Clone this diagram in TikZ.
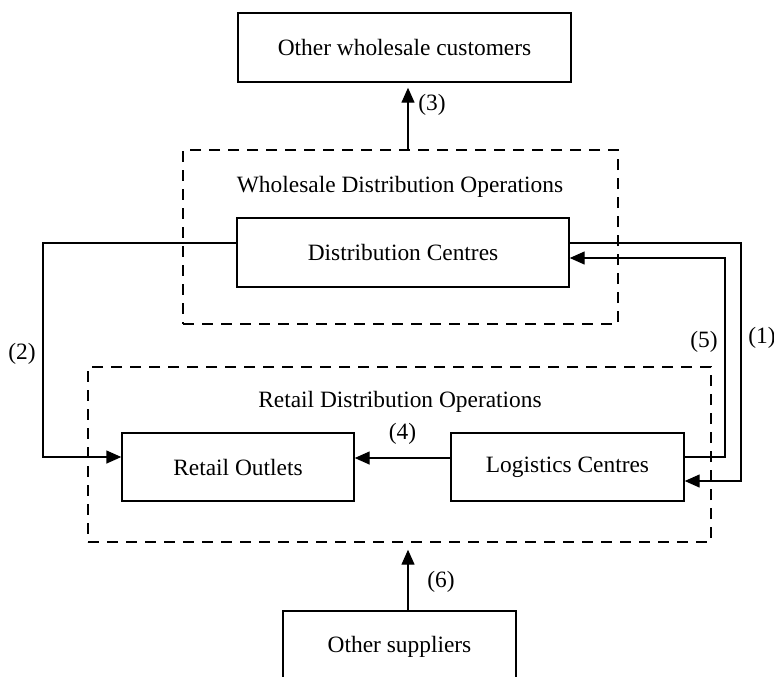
\documentclass[tikz,border=0pt]{standalone}
\usepackage{fontspec}
\setmainfont{Liberation Serif}
\usetikzlibrary{arrows.meta}
\tikzset{
  box/.style={draw,line width=0.7pt,inner sep=0pt},
  dashbox/.style={draw,line width=0.7pt,dash pattern=on 5.5pt off 4pt,inner sep=0pt},
  flow/.style={->,line width=0.7pt},
}
\begin{document}
\begin{tikzpicture}[x=0.5pt,y=-0.5pt,line join=miter,>={Triangle[length=7.5pt,width=6.5pt]},font=\fontsize{11.7}{13}\selectfont]
            \useasboundingbox (0,0) rectangle (774,676);
            % boxes
            \node[box,minimum width=166.5pt,minimum height=34.5pt] (cust) at (404.5,47.5) {Other wholesale customers};
            \node[dashbox,minimum width=217.5pt,minimum height=87pt] (wdo) at (400.5,237) {};
            \node (wlab) at (400,187) {Wholesale Distribution Operations};
            \node[box,minimum width=166pt,minimum height=34.5pt] (dc) at (403,252.5) {Distribution Centres};
            \node[dashbox,minimum width=311.5pt,minimum height=87.5pt] (rdo) at (399.5,454.5) {};
            \node (rlab) at (400,402) {Retail Distribution Operations};
            \node[box,minimum width=116pt,minimum height=34pt] (ro) at (238,467) {Retail Outlets};
            \node[box,minimum width=116.5pt,minimum height=34pt] (lc) at (567.5,467) {Logistics Centres};
            \node[box,minimum width=116.5pt,minimum height=36pt] (sup) at (399.5,647) {Other suppliers};
            \coordinate (ax) at (408,0);
            
            % flows
            \draw[flow] ([yshift=4.75pt]dc.east) -| (741,481) node[right,pos=0.70] (l1) {(1)}
            -- ([yshift=-7pt]lc.east);
            \draw[flow] ([yshift=4.75pt]dc.west) -| (43,457) node[left,pos=0.76] (l2) {(2)}
            -- ([yshift=5pt]ro.west);
            \draw[flow,shorten >=2.5pt] (wdo.north -| ax) -- (cust.south -| ax)
            node[right,pos=0.66,xshift=1.5pt] (l3) {(3)};
            \draw[flow] ([yshift=4.5pt]lc.west) -- ([yshift=4.5pt]ro.east)
            node[above,pos=0.5,yshift=3pt] (l4) {(4)};
            \draw[flow] ([yshift=5pt]lc.east) -| (725,258) node[left,pos=0.79] (l5) {(5)}
            -- ([yshift=-2.75pt]dc.east);
            \draw[flow,shorten >=3.5pt] (sup.north -| ax) -- (rdo.south -| ax)
            node[right,pos=0.42,xshift=6pt] (l6) {(6)};
            
        \end{tikzpicture}
\end{document}
